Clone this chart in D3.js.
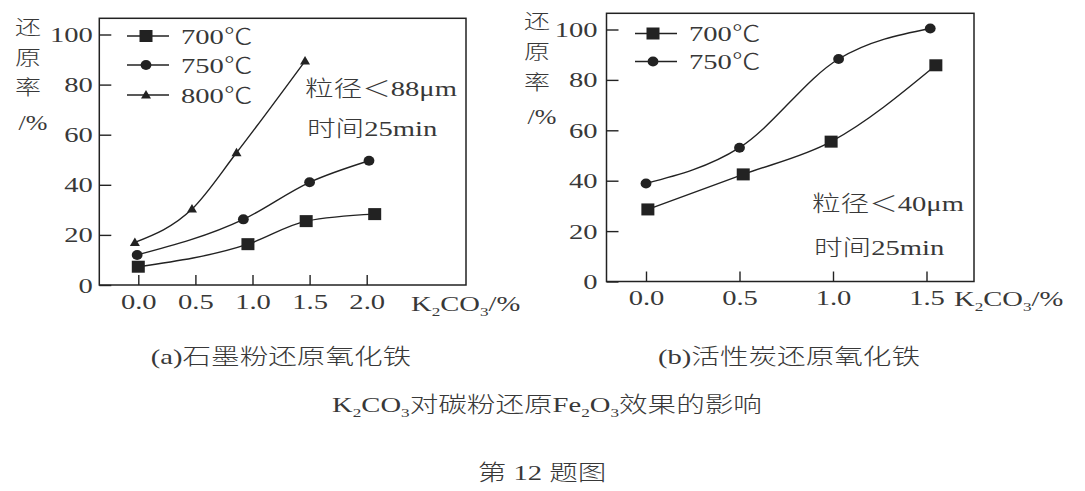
<!DOCTYPE html>
<html><head><meta charset="utf-8">
<script src="https://cdn.jsdelivr.net/npm/d3@7"></script>
<style>body{margin:0;background:#fff}svg{display:block}</style>
</head><body><svg id="c" width="1085" height="491"></svg>
<script>
// ---------- data ----------
const xTicksA = [0.0, 0.5, 1.0, 1.5, 2.0];
const xTicksB = [0.0, 0.5, 1.0, 1.5];
const yTicks = [0, 20, 40, 60, 80, 100];
const seriesA = ["700℃", "750℃", "800℃"];
const a700x = [0.0, 0.96, 1.47, 2.07];
const a700y = [7.3, 16.3, 25.5, 28.3];
const a750x = [-0.01, 0.92, 1.50, 2.02];
const a750y = [12.0, 26.2, 41.0, 49.6];
const a800x = [-0.03, 0.47, 0.86, 1.46];
const a800y = [17.0, 30.3, 52.8, 89.4];
const seriesB = ["700℃", "750℃"];
const b700x = [0.01, 0.52, 0.99, 1.55];
const b700y = [28.6, 42.5, 55.5, 85.8];
const b750x = [0.0, 0.50, 1.03, 1.52];
const b750y = [38.9, 53.1, 88.3, 100.4];
const yLabelChars = ["还", "原", "率", "/%"];
const noteA = ["粒径＜88μm", "时间25min"];
const noteB = ["粒径＜40μm", "时间25min"];
const captionA = "(a)石墨粉还原氧化铁";
const captionB = "(b)活性炭还原氧化铁";
const xLabelParts = [["K",0],["2",1],["CO",0],["3",1],["/%",0]];
const titleParts = [["K",0],["2",1],["CO",0],["3",1],["对碳粉还原Fe",0],["2",1],["O",0],["3",1],["效果的影响",0]];
const figLabel = "第 12 题图";

// ---------- drawing ----------
const SX = 1.3;
const INK = "#222";
const TXT = "#383838";
const FONT = "'Liberation Serif','Times New Roman','Noto Sans CJK SC',serif";
const svg = d3.select("#c");
svg.append("rect").attr("width",1085).attr("height",491).attr("fill","#fff");

function txt(g, x, y, parts, anchor, size) {
  size = size || 22;
  if (typeof parts === "string") parts = [[parts,0]];
  const t = g.append("text")
    .attr("transform", `translate(${x},${y}) scale(${SX},1)`)
    .attr("text-anchor", anchor || "start")
    .attr("font-family", FONT).attr("font-size", size).attr("font-weight", 300)
    .attr("fill", TXT).attr("dy", "0.35em");
  let sub = false;
  parts.forEach(([s, isSub]) => {
    const ts = t.append("tspan").text(s);
    if (isSub && !sub) { ts.attr("dy", 5).attr("font-size", size*0.6); sub = true; }
    else if (isSub) { ts.attr("font-size", size*0.6); }
    else if (!isSub && sub) { ts.attr("dy", -5); sub = false; }
  });
  return t;
}

function marker(g, type, cx, cy) {
  if (type === "square") {
    g.append("rect").attr("x", cx-6.5).attr("y", cy-6).attr("width", 13).attr("height", 12).attr("fill", INK);
  } else if (type === "circle") {
    g.append("ellipse").attr("cx", cx).attr("cy", cy).attr("rx", 5.4).attr("ry", 5).attr("fill", INK);
  } else {
    g.append("path").attr("d", `M${cx},${cy-5} L${cx+5},${cy+3.5} L${cx-5},${cy+3.5} Z`).attr("fill", INK);
  }
}

function panel(cfg) {
  const g = svg.append("g");
  const x = d3.scaleLinear().domain(cfg.xDom).range(cfg.xRange);
  const y = d3.scaleLinear().domain([0,100]).range(cfg.yRange);
  g.append("rect").attr("x", cfg.frame[0]).attr("y", cfg.frame[1])
    .attr("width", cfg.frame[2]-cfg.frame[0]).attr("height", cfg.frame[3]-cfg.frame[1])
    .attr("fill","none").attr("stroke", INK).attr("stroke-width", 1.5);
  const ya = g.append("g").attr("transform", `translate(${cfg.frame[0]},0)`)
    .call(d3.axisLeft(y).tickValues(yTicks).tickFormat(d3.format("d")).tickSize(-12).tickSizeOuter(0).tickPadding(cfg.yPad));
  ya.select(".domain").remove();
  ya.selectAll("line").attr("stroke", INK).attr("stroke-width", 1.4);
  ya.selectAll("text").attr("transform", `scale(${SX},1)`).attr("x", -cfg.yPad/SX)
    .attr("font-family", FONT).attr("font-size", 22).attr("font-weight", 300).attr("fill", TXT);
  const xa = g.append("g").attr("transform", `translate(0,${cfg.frame[3]})`)
    .call(d3.axisBottom(x).tickValues(cfg.xTicks).tickFormat(d3.format(".1f")).tickSize(-10).tickSizeOuter(0).tickPadding(cfg.xPad));
  xa.select(".domain").remove();
  xa.selectAll("line").attr("stroke", INK).attr("stroke-width", 1.4);
  xa.selectAll("text").attr("transform", `scale(${SX},1)`)
    .attr("font-family", FONT).attr("font-size", 22).attr("font-weight", 300).attr("fill", TXT);
  const line = d3.line().x(d => x(d[0])).y(d => y(d[1])).curve(d3.curveMonotoneX);
  cfg.series.forEach(s => {
    const pts = s.xs.map((v,i) => [v, s.ys[i]]);
    g.append("path").attr("d", line(pts)).attr("fill","none").attr("stroke", INK).attr("stroke-width", 1.4);
    pts.forEach(p => marker(g, s.type, x(p[0]), y(p[1])));
  });
  cfg.series.forEach((s, i) => {
    const ly = cfg.legY[i];
    g.append("line").attr("x1", cfg.legX[0]).attr("x2", cfg.legX[1]).attr("y1", ly).attr("y2", ly)
      .attr("stroke", INK).attr("stroke-width", 1.4);
    marker(g, s.type, cfg.legX[2], ly);
    txt(g, cfg.legX[3], ly, s.name);
  });
  yLabelChars.forEach((c, i) => {
    if (i < 3) txt(g, cfg.yLab[0], cfg.yLab[1][i], c, "middle", 20);
    else txt(g, cfg.yLab[0]+5, cfg.yLab[1][i], c, "middle", 20);
  });
  txt(g, cfg.xLab[0], cfg.xLab[1], xLabelParts, "start", 22);
  txt(g, cfg.note[0], cfg.note[1], cfg.notes[0]);
  txt(g, cfg.note[0]+2, cfg.note[2], cfg.notes[1]);
  txt(svg, cfg.cap[0], cfg.cap[1], cfg.caption, "middle", 22);
}

panel({
  xDom:[0,2], xRange:[138.3,366.7], yRange:[285,34.5], frame:[99.3,18.3,466,285],
  xTicks:xTicksA, yPad:6.5, xPad:8,
  series:[
    {name:seriesA[0], xs:a700x, ys:a700y, type:"square"},
    {name:seriesA[1], xs:a750x, ys:a750y, type:"circle"},
    {name:seriesA[2], xs:a800x, ys:a800y, type:"triangle"}],
  legX:[127,169,146,181], legY:[36,65,95],
  yLab:[28,[27.5,57.5,87.5,123]], xLab:[411,303],
  notes:noteA, note:[305,88,128],
  caption:captionA, cap:[281,356]
});
panel({
  xDom:[0,1.5], xRange:[646,926.5], yRange:[281.5,29.5], frame:[606.5,13.3,974,281.5],
  xTicks:xTicksB, yPad:9, xPad:8,
  series:[
    {name:seriesB[0], xs:b700x, ys:b700y, type:"square"},
    {name:seriesB[1], xs:b750x, ys:b750y, type:"circle"}],
  legX:[635,677,653,689], legY:[33.5,61.5],
  yLab:[537,[22,52,83,117]], xLab:[954,298],
  notes:noteB, note:[812,203,247],
  caption:captionB, cap:[789,356]
});
txt(svg, 547, 404, titleParts, "middle", 22);
txt(svg, 542, 472, figLabel, "middle", 22);
</script></body></html>
